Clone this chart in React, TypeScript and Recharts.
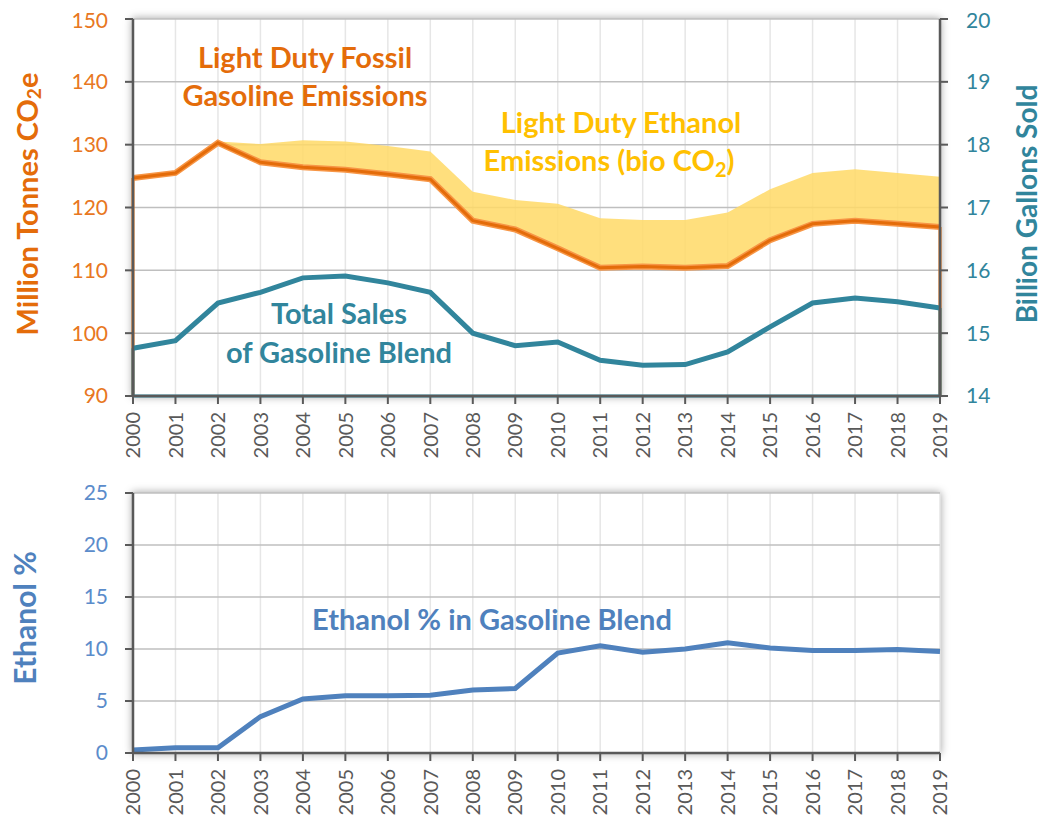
import React from "react";
import {
  ComposedChart,
  Line,
  Area,
  XAxis,
  YAxis,
  CartesianGrid,
  ReferenceLine,
} from "recharts";

const years = [
  2000, 2001, 2002, 2003, 2004, 2005, 2006, 2007, 2008, 2009,
  2010, 2011, 2012, 2013, 2014, 2015, 2016, 2017, 2018, 2019,
];
// million tonnes CO2e, fossil part of light duty gasoline
const fossilEmissions = [
  124.7, 125.5, 130.3, 127.2, 126.4, 126.0, 125.3, 124.5, 117.9, 116.5,
  113.5, 110.4, 110.6, 110.4, 110.7, 114.8, 117.4, 117.9, 117.4, 116.9,
];
// fossil + ethanol (bio CO2) on top
const totalEmissions = [
  124.9, 125.7, 130.5, 130.1, 130.7, 130.5, 129.8, 128.9, 122.5, 121.2,
  120.6, 118.3, 118.0, 118.0, 119.2, 122.9, 125.5, 126.1, 125.5, 124.9,
];
// billion gallons of gasoline blend sold
const gallonsSold = [
  14.76, 14.88, 15.48, 15.65, 15.88, 15.91, 15.8, 15.65, 15.0, 14.8,
  14.86, 14.57, 14.49, 14.5, 14.7, 15.1, 15.48, 15.56, 15.5, 15.4,
];
const ethanolPct = [
  0.3, 0.5, 0.5, 3.5, 5.2, 5.5, 5.5, 5.55, 6.05, 6.2,
  9.6, 10.3, 9.7, 10.0, 10.6, 10.1, 9.85, 9.85, 9.95, 9.75,
];

const leftTicks = [90, 100, 110, 120, 130, 140, 150];
const rightTicks = [14, 15, 16, 17, 18, 19, 20];
const pctTicks = [0, 5, 10, 15, 20, 25];

const ORANGE = "#E46C0A";
const ORANGE_LIGHT = "#F79646";
const YELLOW = "#FFC000";
const BAND = "#FFD966";
const TEAL = "#31859C";
const BLUE = "#4F81BD";
const AXIS = "#595959";
const FONT = "Lato, 'Open Sans', sans-serif";

const topData = years.map((year, i) => ({
  year,
  fossil: fossilEmissions[i],
  band: [fossilEmissions[i], totalEmissions[i]],
  sales: gallonsSold[i],
}));

const bottomData = years.map((year, i) => ({ year, pct: ethanolPct[i] }));

const YearTick = (props: any) => {
  const { x, y, payload } = props;
  return (
    <text
      x={x}
      y={y}
      dy="0.36em"
      textAnchor="end"
      transform={`rotate(-90, ${x}, ${y})`}
      fill={AXIS}
      fontSize={20}
      fontFamily={FONT}
    >
      {payload.value}
    </text>
  );
};

const W = 1033;
const RIGHT = 101;
const axisLine = { stroke: AXIS, strokeWidth: 2.5 };
const tickLine = { stroke: AXIS, strokeWidth: 2 };

export default function App() {
  return (
    <div style={{ position: "relative", width: W, height: 813, fontFamily: FONT }}>
      {/* plot area shadows */}
      <div
        style={{
          position: "absolute",
          left: 125,
          top: 11,
          width: 807,
          height: 377,
          background: "#fff",
          boxShadow: "0 0 8px 1px rgba(0,0,0,0.35)",
        }}
      />
      <div
        style={{
          position: "absolute",
          left: 125,
          top: 485,
          width: 807,
          height: 260,
          background: "#fff",
          boxShadow: "0 0 8px 1px rgba(0,0,0,0.35)",
        }}
      />

      <div style={{ position: "absolute", left: 0, top: 0 }}>
        <ComposedChart
          width={W}
          height={470}
          data={topData}
          margin={{ top: 11, right: 0, bottom: 0, left: 0 }}
        >
          <CartesianGrid yAxisId="left" horizontal={false} stroke="#E6E6E6" strokeWidth={1.5} />
          <CartesianGrid yAxisId="left" vertical={false} stroke="#BFBFBF" strokeWidth={1.5} />
          <XAxis
            dataKey="year"
            type="number"
            domain={[2000, 2019]}
            ticks={years}
            interval={0}
            height={82}
            tickSize={8}
            tickMargin={8}
            tick={<YearTick />}
            axisLine={axisLine}
            tickLine={tickLine}
          />
          <YAxis
            yAxisId="left"
            domain={[90, 150]}
            ticks={leftTicks}
            width={125}
            tickSize={8}
            tickMargin={17}
            tick={{ fill: "#E87722", fontSize: 21, fontFamily: FONT }}
            axisLine={axisLine}
            tickLine={tickLine}
          />
          <YAxis
            yAxisId="right"
            orientation="right"
            domain={[14, 20]}
            ticks={rightTicks}
            width={RIGHT}
            tickSize={8}
            tickMargin={18}
            tick={{ fill: TEAL, fontSize: 21, fontFamily: FONT, textAnchor: "start" }}
            axisLine={axisLine}
            tickLine={tickLine}
          />
          <Area
            yAxisId="left"
            dataKey="band"
            fill={BAND}
            fillOpacity={0.85}
            stroke="none"
            isAnimationActive={false}
          />
          <ReferenceLine
            yAxisId="left"
            segment={[
              { x: years[0], y: fossilEmissions[0] },
              { x: years[0], y: leftTicks[0] },
            ]}
            stroke={ORANGE}
            strokeWidth={3}
          />
          <ReferenceLine
            yAxisId="left"
            segment={[
              { x: years[years.length - 1], y: fossilEmissions[fossilEmissions.length - 1] },
              { x: years[years.length - 1], y: leftTicks[0] },
            ]}
            stroke={ORANGE}
            strokeWidth={3}
          />
          <ReferenceLine
            yAxisId="right"
            segment={[
              { x: years[0], y: gallonsSold[0] },
              { x: years[0], y: rightTicks[0] },
            ]}
            stroke={TEAL}
            strokeWidth={3}
          />
          <ReferenceLine
            yAxisId="right"
            segment={[
              { x: years[years.length - 1], y: gallonsSold[gallonsSold.length - 1] },
              { x: years[years.length - 1], y: rightTicks[0] },
            ]}
            stroke={TEAL}
            strokeWidth={3}
          />
          <ReferenceLine yAxisId="right" y={rightTicks[0]} stroke={TEAL} strokeWidth={3} />
          <Line
            yAxisId="left"
            dataKey="fossil"
            stroke={ORANGE_LIGHT}
            strokeWidth={6}
            dot={false}
            activeDot={false}
            isAnimationActive={false}
          />
          <Line
            yAxisId="left"
            dataKey="fossil"
            stroke={ORANGE}
            strokeWidth={3}
            dot={false}
            activeDot={false}
            isAnimationActive={false}
          />
          <Line
            yAxisId="right"
            dataKey="sales"
            stroke={TEAL}
            strokeWidth={5}
            dot={false}
            activeDot={false}
            isAnimationActive={false}
          />
        </ComposedChart>
      </div>

      <div style={{ position: "absolute", left: 0, top: 467 }}>
        <ComposedChart
          width={W}
          height={346}
          data={bottomData}
          margin={{ top: 18, right: RIGHT, bottom: 0, left: 0 }}
        >
          <CartesianGrid horizontal={false} stroke="#E6E6E6" strokeWidth={1.5} />
          <CartesianGrid vertical={false} stroke="#BFBFBF" strokeWidth={1.5} />
          <XAxis
            dataKey="year"
            type="number"
            domain={[2000, 2019]}
            ticks={years}
            interval={0}
            height={68}
            tickSize={8}
            tickMargin={8}
            tick={<YearTick />}
            axisLine={axisLine}
            tickLine={tickLine}
          />
          <YAxis
            domain={[0, 25]}
            ticks={pctTicks}
            width={125}
            tickSize={8}
            tickMargin={17}
            tick={{ fill: "#5B8CCB", fontSize: 21, fontFamily: FONT }}
            axisLine={axisLine}
            tickLine={tickLine}
          />
          <Line
            dataKey="pct"
            stroke={BLUE}
            strokeWidth={5}
            dot={false}
            activeDot={false}
            isAnimationActive={false}
          />
        </ComposedChart>
      </div>

      {/* titles and series labels, page coordinates */}
      <svg
        width={W}
        height={813}
        style={{ position: "absolute", left: 0, top: 0, pointerEvents: "none", overflow: "visible" }}
      >
        <g transform="translate(-8,-8)" fontFamily={FONT} fontWeight="bold">
          <text
            x={26}
            y={204}
            textAnchor="middle"
            dominantBaseline="central"
            transform="rotate(-90, 26, 204)"
            fill={ORANGE}
            fontSize={29}
          >
            Million Tonnes CO
            <tspan dy={7} fontSize={19}>2</tspan>
            <tspan dy={-7}>e</tspan>
          </text>
          <text
            x={1026}
            y={204}
            textAnchor="middle"
            dominantBaseline="central"
            transform="rotate(-90, 1026, 204)"
            fill={TEAL}
            fontSize={28}
          >
            Billion Gallons Sold
          </text>
          <text
            x={24}
            y={618}
            textAnchor="middle"
            dominantBaseline="central"
            transform="rotate(-90, 24, 618)"
            fill={BLUE}
            fontSize={30}
          >
            Ethanol %
          </text>

          <text x={305} y={68} textAnchor="middle" fill={ORANGE} fontSize={29}>
            Light Duty Fossil
          </text>
          <text x={305} y={106} textAnchor="middle" fill={ORANGE} fontSize={29}>
            Gasoline Emissions
          </text>

          <text x={621} y={133} textAnchor="middle" fill={YELLOW} fontSize={29}>
            Light Duty Ethanol
          </text>
          <text x={609} y={171} textAnchor="middle" fill={YELLOW} fontSize={29}>
            Emissions (bio CO
            <tspan dy={6} fontSize={20}>2</tspan>
            <tspan dy={-6}>)</tspan>
          </text>

          <text x={339} y={324} textAnchor="middle" fill={TEAL} fontSize={29}>
            Total Sales
          </text>
          <text x={339} y={363} textAnchor="middle" fill={TEAL} fontSize={29}>
            of Gasoline Blend
          </text>

          <text x={492} y={630} textAnchor="middle" fill={BLUE} fontSize={29}>
            Ethanol % in Gasoline Blend
          </text>
        </g>
      </svg>
    </div>
  );
}
